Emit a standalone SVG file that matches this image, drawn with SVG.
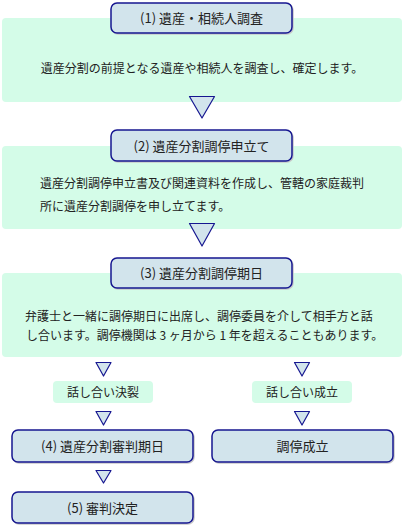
<svg xmlns="http://www.w3.org/2000/svg" width="403" height="526" viewBox="0 0 403 526">
<defs>
<style>
.panel{fill:#d4fce8}
.box{fill:#d2e4ec;stroke:#161690;stroke-width:1.5}
.shadow{fill:none;stroke:#c8c8c8;stroke-width:1.5}
.tri{fill:#d2e4ec;stroke:#161690;stroke-width:1.2;stroke-linejoin:round}
.lbl{fill:#d4fce8}
text{font-family:"Meiryo","Noto Sans CJK JP","Noto Sans",sans-serif;fill:#222}
.t{font-size:13px;text-anchor:middle}
.b{font-size:12px}
.c{font-size:12px;text-anchor:middle}
</style>
</defs>
<rect width="403" height="526" fill="#ffffff"/>

<g id="panel1">
<rect class="panel" x="2" y="18" width="400" height="84" rx="4"/>
<text class="c" x="202" y="73">遺産分割の前提となる遺産や相続人を調査し、確定します。</text>
</g>
<g id="node1">
<rect class="shadow" x="112" y="4" width="181" height="30" rx="6"/>
<rect class="box" x="111" y="3" width="181" height="30" rx="6"/>
<text class="t" x="201.5" y="23">(1) 遺産・相続人調査</text>
</g>

<g id="panel2">
<rect class="panel" x="2" y="146" width="400" height="83" rx="4"/>
<text class="b" x="40" y="188">遺産分割調停申立書及び関連資料を作成し、管轄の家庭裁判</text>
<text class="b" x="40" y="211">所に遺産分割調停を申し立てます。</text>
</g>
<g id="node2">
<rect class="shadow" x="112" y="131" width="181" height="31" rx="6"/>
<rect class="box" x="111" y="130" width="181" height="31" rx="6"/>
<text class="t" x="201.5" y="150.5">(2) 遺産分割調停申立て</text>
</g>

<g id="panel3">
<rect class="panel" x="2" y="273" width="400" height="84" rx="4"/>
<text class="b" x="25" y="321">弁護士と一緒に調停期日に出席し、調停委員を介して相手方と話</text>
<text class="b" x="26" y="339.5">し合います。調停機関は 3 ヶ月から 1 年を超えることもあります。</text>
</g>
<g id="node3">
<rect class="shadow" x="112" y="259" width="181" height="30" rx="6"/>
<rect class="box" x="111" y="258" width="181" height="30" rx="6"/>
<text class="t" x="201.5" y="278">(3) 遺産分割調停期日</text>
</g>

<g id="label-fail">
<rect class="lbl" x="53" y="381" width="100" height="22" rx="4"/>
<text class="c" x="103" y="396.5">話し合い決裂</text>
</g>
<g id="label-ok">
<rect class="lbl" x="252" y="381" width="100" height="22" rx="4"/>
<text class="c" x="302" y="396.5">話し合い成立</text>
</g>

<g id="node4">
<rect class="shadow" x="13" y="431" width="181" height="32" rx="6"/>
<rect class="box" x="12" y="430" width="181" height="32" rx="6"/>
<text class="t" x="102.5" y="451">(4) 遺産分割審判期日</text>
</g>
<g id="node-settle">
<rect class="shadow" x="213" y="431" width="181" height="32" rx="6"/>
<rect class="box" x="212" y="430" width="181" height="32" rx="6"/>
<text class="t" x="302.5" y="451">調停成立</text>
</g>
<g id="node5">
<rect class="shadow" x="13" y="493" width="181" height="31" rx="6"/>
<rect class="box" x="12" y="492" width="181" height="31" rx="6"/>
<text class="t" x="102.5" y="512.5">(5) 審判決定</text>
</g>

<g id="connectors">
<polygon class="tri" points="189.5,96.5 214.5,96.5 202,118"/>
<polygon class="tri" points="189.5,223.5 214.5,223.5 202,246"/>
<polygon class="tri" points="96,362.5 111,362.5 103.5,376"/>
<polygon class="tri" points="294.5,362.5 309.5,362.5 302,376"/>
<polygon class="tri" points="96,411.5 111,411.5 103.5,425"/>
<polygon class="tri" points="294.5,411.5 309.5,411.5 302,425"/>
<polygon class="tri" points="96,470.5 111,470.5 103.5,483"/>
</g>
</svg>
